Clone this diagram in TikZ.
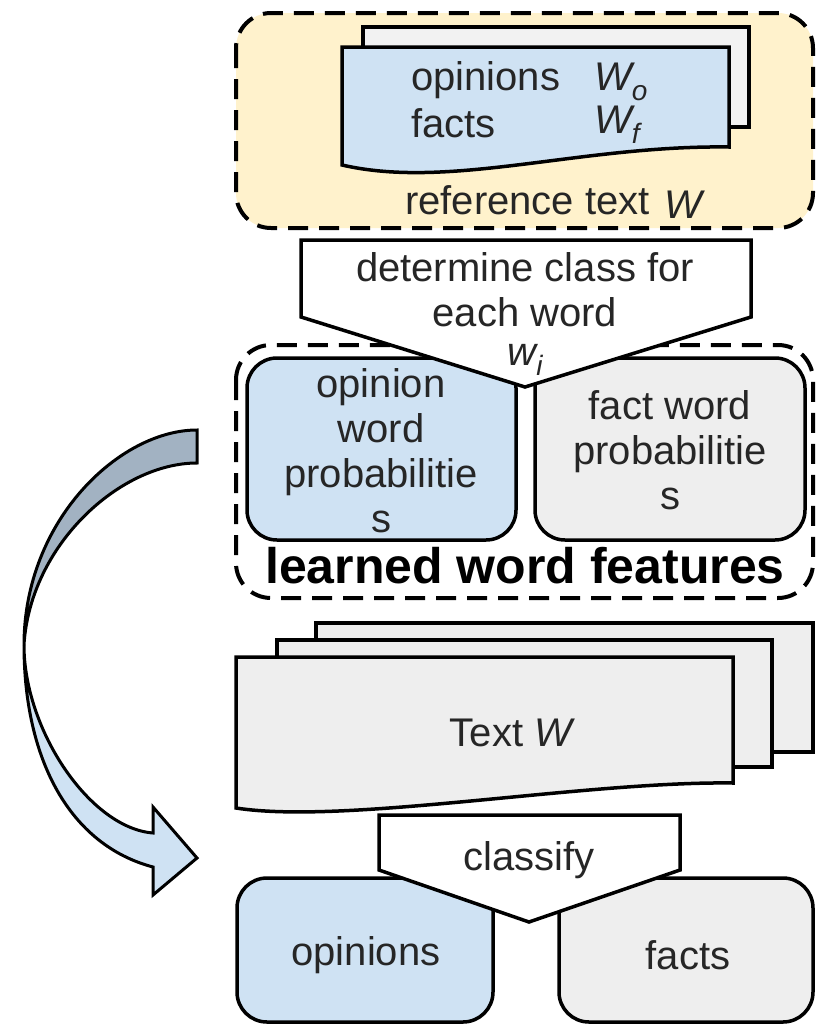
\documentclass[tikz,border=0pt]{standalone}
\usepackage{fontspec}
\setmainfont{Liberation Sans}
\definecolor{bluef}{HTML}{CFE2F3}
\definecolor{grayf}{HTML}{EEEEEE}
\definecolor{grayb}{HTML}{F2F2F2}
\definecolor{yellowf}{HTML}{FFF2CC}
\definecolor{arrowdark}{HTML}{A2B2C2}
\newcommand\mysub[1]{\raisebox{-10pt}{\fontsize{28}{28}\selectfont\itshape #1}}
\begin{document}
\begin{tikzpicture}[x=1pt,y=-1pt,
  shp/.style={draw=black,line width=3.5pt},
  dashbox/.style={draw=black,line width=4pt,dash pattern=on 20pt off 11pt,rounded corners=35pt},
  rbox/.style={draw=black,line width=3.5pt,rounded corners=30pt},
  txt/.style={font=\fontsize{40}{45}\selectfont,align=center,inner sep=0pt,text=black!85},
  btxt/.style={font=\fontsize{50}{55}\selectfont\bfseries,inner sep=0pt},
  arr/.style={draw=black,line width=3pt,line join=miter}]
\useasboundingbox (0,0) rectangle (816,1026);

% top reference text group
\draw[dashbox,fill=yellowf] (236,13) rectangle (813,228);
\draw[shp,fill=grayb] (363,27) rectangle (749,127);
\draw[shp,fill=bluef] (342,47) -- (729,47) -- (729,147)
  .. controls (580,145) and (450,190) .. (342,165) -- cycle;
\node[txt,anchor=west] (op1) at (411,80) {opinions};
\node[txt,anchor=west] (fa1) at (411,123) {facts};
\node[txt,anchor=west] (wo) at (594,82) {\itshape W\mysub{o}};
\node[txt,anchor=west] (wf) at (594,125) {\itshape W\mysub{f}};
\node[txt,anchor=west] (ref) at (405,200) {reference text};
\node[txt,anchor=west] (refw) at (664,205) {\itshape W};

% learned word features group
\draw[dashbox] (236,345) rectangle (813,598);
\draw[rbox,fill=bluef] (247,358) rectangle (516,540);
\draw[rbox,fill=grayf] (535,358) rectangle (805,540);
\node[txt] (opp) at (381,451) {opinion\\word\\probabilitie\\s};
\node[txt] (fap) at (670,450) {fact word\\probabilitie\\s};
\node[btxt] (lwf) at (525,566) {learned word features};

% determine process
\draw[shp,fill=white] (301,240) -- (751,240) -- (751,317) -- (525,387) -- (301,317) -- cycle;
\node[txt] (det) at (525,290) {determine class for\\each word};
\node[txt] (wi) at (525,360) {\itshape w\mysub{i}};

% text stack
\draw[shp,fill=grayf] (316,623) rectangle (813,752);
\draw[shp,fill=grayf] (277,640) rectangle (772,767);
\draw[shp,fill=grayf] (236,657) -- (733,657) -- (733,783)
  .. controls (584,781) and (345,825) .. (236,808) -- cycle;
\node[txt] (textw) at (511,733) {Text \itshape W};

% results
\draw[rbox,fill=bluef] (237,878) rectangle (493,1022);
\draw[rbox,fill=grayf] (559,878) rectangle (813,1022);
\node[txt] (opr) at (366,955) {opinions};
\node[txt] (far) at (688,955) {facts};

% classify process
\draw[shp,fill=white] (379,815) -- (680,815) -- (680,870) -- (529,922) -- (379,870) -- cycle;
\node[txt] (cls) at (529,860) {classify};

% curved arrow
\coordinate (mid) at (24,645);
\draw[arr,fill=arrowdark] (197,430) .. controls (120,430) and (24,520) .. (mid)
  .. controls (30,545) and (120,463) .. (197,463) -- cycle;
\draw[arr,fill=bluef] (mid) .. controls (24,760) and (70,845) .. (153,867)
  -- (153,895) -- (197,858) -- (153,807) -- (153,833)
  .. controls (90,828) and (24,730) .. (mid) -- cycle;
\end{tikzpicture}
\end{document}
